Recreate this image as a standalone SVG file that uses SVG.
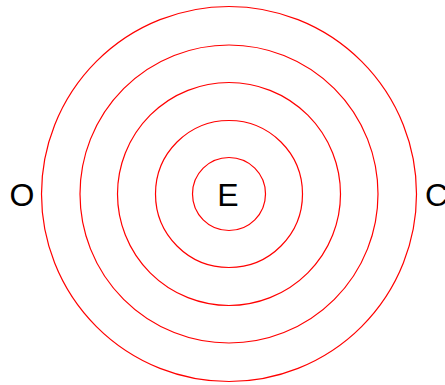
<svg xmlns="http://www.w3.org/2000/svg" width="445" height="385" viewBox="0 0 445 385">
<style>
.ring{fill:none;stroke:#ff0000;stroke-width:1.2}
.lbl{font-family:"Liberation Sans",Arial,sans-serif;font-size:32px;fill:#000}
</style>
<rect width="445" height="385" fill="#fff"/>
<g id="connectors"></g>
<g id="ring5"><circle class="ring" cx="229" cy="194" r="187.5"/></g>
<g id="ring4"><circle class="ring" cx="229" cy="194" r="149"/></g>
<g id="ring3"><circle class="ring" cx="229" cy="194" r="111.5"/></g>
<g id="ring2"><circle class="ring" cx="229" cy="194" r="73.5"/></g>
<g id="ring1"><circle class="ring" cx="229" cy="194" r="36.5"/></g>
<g id="E"><text class="lbl" x="228" y="206" text-anchor="middle">E</text></g>
<g id="O"><text class="lbl" x="22" y="206" text-anchor="middle">O</text></g>
<g id="C"><text class="lbl" x="425" y="206">C</text></g>
</svg>
